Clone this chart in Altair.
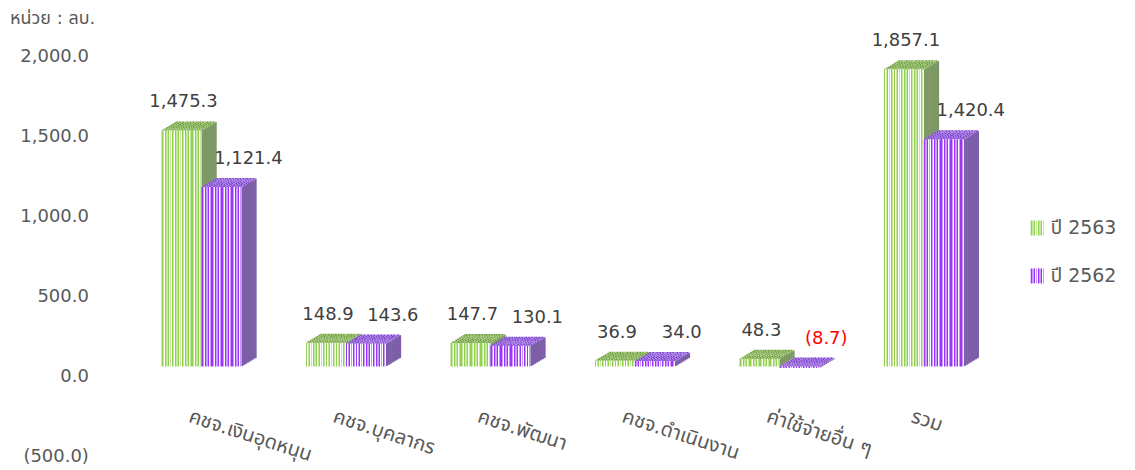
import altair as alt
import pandas as pd

categories = ["คชจ.เงินอุดหนุน", "คชจ.บุคลากร", "คชจ.พัฒนา", "คชจ.ดำเนินงาน", "ค่าใช้จ่ายอื่น ๆ", "รวม"]
series_names = ["ปี 2563", "ปี 2562"]
values_2563 = [1475.3, 148.9, 147.7, 36.9, 48.3, 1857.1]
values_2562 = [1121.4, 143.6, 130.1, 34.0, -8.7, 1420.4]
y_ticks = [-500, 0, 500, 1000, 1500, 2000]
unit_label = "หน่วย : ลบ."

rows = []
for s, vals in zip(series_names, [values_2563, values_2562]):
    for c, v in zip(categories, vals):
        rows.append({"cat": c, "series": s, "v": v})
df = pd.DataFrame(rows)

FONT = "DejaVu Sans, Noto Sans Thai, Noto Sans, sans-serif"
GRAY = "#595959"

# ---- styling helpers -------------------------------------------------------
def stripes(unit, reps):
    total = sum(w for _, w in unit)
    stops = []
    for r in range(reps):
        pos = r / reps
        for col, w in unit:
            nxt = pos + w / total / reps
            stops.append(alt.GradientStop(offset=round(pos, 5), color=col))
            stops.append(alt.GradientStop(offset=round(min(nxt, 1), 5), color=col))
            pos = nxt
    return alt.LinearGradient(gradient="linear", stops=stops, x1=0, x2=1, y1=0, y2=0)

style = {
    series_names[0]: dict(
        front=stripes([("#92d050", 1.1), ("#ffffff", 0.45), ("#c5e8a0", 1.2), ("#ffffff", 0.5)], 12),
        top=stripes([("#8cb860", 1.2), ("#6f9848", 0.9), ("#a8cc80", 1.15)], 12),
        side="#7d9866",
        legend=stripes([("#92d050", 1.1), ("#ffffff", 0.45), ("#c5e8a0", 1.2), ("#ffffff", 0.5)], 4),
        offset=-20,
        label_dx=2,
    ),
    series_names[1]: dict(
        front=stripes([("#9933ff", 1.1), ("#ffffff", 0.45), ("#cc99ff", 1.2), ("#ffffff", 0.5)], 12),
        top=stripes([("#9a66dd", 1.1), ("#7a44cc", 1.0), ("#b38be8", 1.15)], 12),
        side="#7d5ea8",
        legend=stripes([("#9933ff", 1.1), ("#ffffff", 0.45), ("#cc99ff", 1.2), ("#ffffff", 0.5)], 4),
        offset=20,
        label_dx=27,
    ),
}

BAR_W = 40
DEPTH_X = 15
DEPTH_Y = 9
LIFT = 10
N = 8
PLOT_LEFT = 129.5
PLOT_TOP = 56
BAND_RANGE = 868.8

x_enc = alt.X(
    "cat:N",
    sort=categories,
    scale=alt.Scale(domain=categories, range=[0, BAND_RANGE], paddingInner=0, paddingOuter=0),
    axis=alt.Axis(
        title=None, domain=False, ticks=False, labelAngle=18, labelAlign="left",
        labelBaseline="middle", labelOffset=-12, labelPadding=9, offset=-50,
        labelFont=FONT, labelFontSize=20, labelColor=GRAY, labelLimit=300,
    ),
)
y_axis = alt.Axis(
    title=None, domain=False, ticks=False, grid=False, values=y_ticks,
    labelExpr="datum.value < 0 ? '(' + format(-datum.value, ',.1f') + ')' : format(datum.value, ',.1f') + '\u00a0'",
    labelFont=FONT, labelFontSize=18, labelColor=GRAY, labelPadding=41,
)
y_scale = alt.Scale(domain=[-500, 2000], nice=False, zero=False)

base = alt.Chart(df).transform_calculate(top="max(datum.v, 0)")

layers = []
for s in series_names:
    st = style[s]
    sb = base.transform_filter(alt.datum.series == s)
    # side face as vertical slices
    for i in range(1, N + 1):
        off = -LIFT - DEPTH_Y * (i - 0.5) / N
        layers.append(
            sb.mark_bar(
                width=DEPTH_X / N + 0.6,
                xOffset=st["offset"] + BAR_W / 2 + DEPTH_X * (i - 0.5) / N,
                yOffset=off, y2Offset=off, fill=st["side"], strokeWidth=0,
            ).encode(x=x_enc, y=alt.Y("v:Q", scale=y_scale, axis=y_axis), y2=alt.Y2Datum(0))
        )
    # top face as horizontal slices
    for j in range(1, N + 1):
        layers.append(
            sb.mark_bar(
                width=BAR_W,
                xOffset=st["offset"] + DEPTH_X * (j - 0.5) / N,
                yOffset=-LIFT - DEPTH_Y * j / N,
                y2Offset=-LIFT - DEPTH_Y * (j - 1) / N + 0.4,
                fill=st["top"], strokeWidth=0,
            ).encode(x=x_enc, y=alt.Y("top:Q", scale=y_scale, axis=y_axis), y2=alt.Y2("top:Q"))
        )
    # front face
    layers.append(
        sb.mark_bar(
            width=BAR_W, xOffset=st["offset"], yOffset=-LIFT, y2Offset=-LIFT,
            fill=st["front"], strokeWidth=0,
        ).encode(x=x_enc, y=alt.Y("v:Q", scale=y_scale, axis=y_axis), y2=alt.Y2Datum(0))
    )

for s in series_names:
    st = style[s]
    layers.append(
        base.transform_filter(alt.datum.series == s)
        .transform_calculate(
            txt="datum.v < 0 ? '(' + format(-datum.v, ',.1f') + ')' : format(datum.v, ',.1f')"
        )
        .mark_text(
            font=FONT, fontSize=18, baseline="middle", align="center",
            dx=st["offset"] + st["label_dx"], dy=-LIFT - 28,
        )
        .encode(
            x=x_enc,
            y=alt.Y("top:Q", scale=y_scale, axis=y_axis),
            text="txt:N",
            color=alt.condition("datum.v < 0", alt.value("#ff0000"), alt.value("#404040")),
        )
    )

# legend (custom, striped swatches)
for k, s in enumerate(series_names):
    st = style[s]
    ld = alt.Chart(pd.DataFrame({"series": [s]}))
    yc = 172 + 48 * k
    layers.append(
        ld.mark_rect(fill=st["legend"], strokeWidth=0).encode(
            x=alt.value(1033 - PLOT_LEFT), x2=alt.value(1047 - PLOT_LEFT),
            y=alt.value(yc - 7.5), y2=alt.value(yc + 7.5),
        )
    )
    layers.append(
        ld.mark_text(font=FONT, fontSize=19, align="left", baseline="middle", color=GRAY).encode(
            x=alt.value(1053 - PLOT_LEFT), y=alt.value(yc), text="series:N"
        )
    )

# unit label
layers.append(
    alt.Chart(pd.DataFrame({"u": [unit_label]}))
    .mark_text(font=FONT, fontSize=18, align="left", baseline="middle", color=GRAY)
    .encode(x=alt.value(10 - PLOT_LEFT), y=alt.value(19 - PLOT_TOP), text="u:N")
)

chart = (
    alt.layer(*layers)
    .properties(
        width=1000, height=401,
        autosize=alt.AutoSizeParams(type="none"),
        padding={"left": PLOT_LEFT - 8, "top": PLOT_TOP - 8, "right": 0, "bottom": 12},
    )
    .configure(background="white", view=alt.ViewConfig(stroke="transparent", strokeWidth=0))
)

chart.save("out.html", embed_options={"renderer": "svg", "actions": False})
